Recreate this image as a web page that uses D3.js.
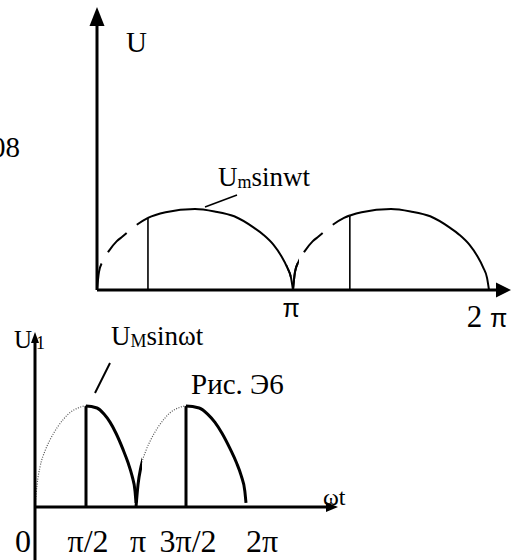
<!DOCTYPE html>
<html lang="ru">
  <head>
    <meta charset="utf-8">
    <script src="https://d3js.org/d3.v7.min.js"></script>
    <style>
      body { margin: 0; background: white; }
      svg text { font-family: "Liberation Serif", "Times New Roman", Times, "DejaVu Serif", serif; }
      svg text .sym { font-family: "Liberation Sans", Arial, sans-serif; }
    </style>
  </head>
  <body>
    <svg id="chart" width="515" height="560"></svg>
    <script>

    // upper picture: one half-wave, phase in units of pi, value as share of Um
    var topPhase = [0, 0.01, 0.03, 0.06, 0.1, 0.13, 0.2, 0.26, 0.35, 0.5, 0.6, 0.7, 0.8, 0.85, 0.9, 0.94, 0.97, 0.99, 1];
    var topValue = [0, 0.22, 0.36, 0.48, 0.6, 0.66, 0.8, 0.89, 0.96, 1, 0.97, 0.91, 0.77, 0.68, 0.56, 0.42, 0.28, 0.15, 0];
    var topStart = [0, 1];          // half-wave begins
    var topFire = [0.26, 1.29];     // conduction begins (vertical line)
    var topTicks = [1, 2];
    var topTickLabels = ["π", "2 π"];

    // lower picture
    var botPhase = [0, 0.02, 0.05, 0.1, 0.15, 0.22, 0.28, 0.35, 0.42, 0.5, 0.61, 0.68, 0.74, 0.8, 0.87, 0.92, 0.96, 0.99, 1];
    var botValue = [0, 0.22, 0.4, 0.56, 0.67, 0.79, 0.87, 0.94, 0.98, 1, 0.98, 0.92, 0.84, 0.73, 0.57, 0.44, 0.31, 0.16, 0.04];
    var botStart = [0, 1];
    var botFire = [0.5, 1.5];
    var botTicks = [0, 0.5, 1, 1.5, 2];
    var botTickLabels = ["0", "π/2", "π", "3π/2", "2π"];


    var svg = d3.select("#chart");
    var defs = svg.append("defs");

    var halfWave = function(start, phase, value)
    {
      return phase.map(function(p, i)
      {
        return {x: start + p, y: value[i]};
      });
    };

    // ---------- upper picture ----------
    var topX = d3.scaleLinear().domain([0, 2]).range([97, 489]);
    var topY = d3.scaleLinear().domain([0, 1]).range([290, 209]);

    var topLine = d3.line()
      .x(function(d) { return topX(d.x); })
      .y(function(d) { return topY(d.y); })
      .curve(d3.curveMonotoneX);
    var topArea = d3.area()
      .x(function(d) { return topX(d.x); })
      .y0(topY(0))
      .y1(function(d) { return topY(d.y); })
      .curve(d3.curveMonotoneX);

    var topWaves = topStart.map(function(s) { return halfWave(s, topPhase, topValue); });

    // clip: dashed before the firing point, solid after it
    defs.append("clipPath").attr("id", "topDash")
      .selectAll("rect").data(topStart).enter().append("rect")
      .attr("x", function(d) { return topX(d) - 6; })
      .attr("y", 0)
      .attr("width", function(d, i) { return topX(topFire[i]) - topX(d) + 6; })
      .attr("height", 300);
    defs.append("clipPath").attr("id", "topSolid")
      .selectAll("rect").data(topStart).enter().append("rect")
      .attr("x", function(d, i) { return topX(topFire[i]); })
      .attr("y", 0)
      .attr("width", function(d, i) { return topX(d + 1) - topX(topFire[i]) + 6; })
      .attr("height", 300);
    defs.append("clipPath").attr("id", "topUnder")
      .selectAll("path").data(topWaves).enter().append("path")
      .attr("d", topArea);

    svg.append("g").attr("clip-path", "url(#topDash)")
      .selectAll("path").data(topWaves).enter().append("path")
      .attr("d", topLine)
      .attr("fill", "none")
      .attr("stroke", "black")
      .attr("stroke-width", 2)
      .attr("stroke-dasharray", "27,13");
    svg.append("g").attr("clip-path", "url(#topSolid)")
      .selectAll("path").data(topWaves).enter().append("path")
      .attr("d", topLine)
      .attr("fill", "none")
      .attr("stroke", "black")
      .attr("stroke-width", 2);

    svg.append("g").attr("clip-path", "url(#topUnder)")
      .selectAll("line").data(topFire).enter().append("line")
      .attr("x1", function(d) { return topX(d); })
      .attr("x2", function(d) { return topX(d); })
      .attr("y1", topY(0))
      .attr("y2", topY(1) - 5)
      .attr("stroke", "black")
      .attr("stroke-width", 1.6);

    // axes
    svg.append("line")
      .attr("x1", topX(0)).attr("y1", topY(0))
      .attr("x2", topX(0)).attr("y2", 22)
      .attr("stroke", "black").attr("stroke-width", 3);
    svg.append("path")
      .attr("d", "M" + topX(0) + ",7 L" + (topX(0) - 7.5) + ",26 L" + (topX(0) + 7.5) + ",26 Z")
      .attr("fill", "black");
    svg.append("line")
      .attr("x1", topX(0)).attr("y1", topY(0))
      .attr("x2", 500).attr("y2", topY(0))
      .attr("stroke", "black").attr("stroke-width", 3);
    svg.append("path")
      .attr("d", "M511," + topY(0) + " L496," + (topY(0) - 7.5) + " L496," + (topY(0) + 7.5) + " Z")
      .attr("fill", "black");

    // tick labels
    svg.selectAll(".topTick").data(topTicks).enter().append("text")
      .attr("class", "topTick")
      .attr("x", function(d) { return topX(d) - 2; })
      .attr("y", function(d, i) { return i == 0 ? 317 : 327; })
      .attr("text-anchor", "middle")
      .each(function(d, i)
      {
        var t = d3.select(this);
        var parts = topTickLabels[i].split(" ");
        if (parts.length > 1)
        {
          t.append("tspan").attr("font-size", 31).text(parts[0] + " ");
        }
        t.append("tspan")
          .attr("class", "sym")
          .attr("font-size", 25)
          .text(parts[parts.length - 1]);
      });

    svg.append("text").attr("x", 126).attr("y", 52).attr("font-size", 29).text("U");
    svg.append("text").attr("x", 20).attr("y", 157).attr("font-size", 29)
      .attr("text-anchor", "end").text("08");

    var um = svg.append("text").attr("x", 218).attr("y", 186).attr("font-size", 27);
    um.append("tspan").text("U");
    um.append("tspan").attr("font-size", 18).attr("dy", 2).text("m");
    um.append("tspan").attr("dy", -2).text("sinwt");
    svg.append("line")
      .attr("x1", 205).attr("y1", 207).attr("x2", 237).attr("y2", 195)
      .attr("stroke", "black").attr("stroke-width", 1.6);


    // ---------- lower picture ----------
    var botX = d3.scaleLinear().domain([0, 0.5, 1, 1.5, 2]).range([35, 86, 136, 186, 246]);
    var botY = d3.scaleLinear().domain([0, 1]).range([507, 406]);

    var botLine = d3.line()
      .x(function(d) { return botX(d.x); })
      .y(function(d) { return botY(d.y); })
      .curve(d3.curveMonotoneX);
    var botArea = d3.area()
      .x(function(d) { return botX(d.x); })
      .y0(botY(0))
      .y1(function(d) { return botY(d.y); })
      .curve(d3.curveMonotoneX);

    var botWaves = botStart.map(function(s) { return halfWave(s, botPhase, botValue); });

    defs.append("clipPath").attr("id", "botDot")
      .selectAll("rect").data(botStart).enter().append("rect")
      .attr("x", function(d) { return botX(d) - 6; })
      .attr("y", 380)
      .attr("width", function(d, i) { return botX(botFire[i]) - botX(d) + 6; })
      .attr("height", 140);
    defs.append("clipPath").attr("id", "botSolid")
      .selectAll("rect").data(botStart).enter().append("rect")
      .attr("x", function(d, i) { return botX(botFire[i]); })
      .attr("y", 380)
      .attr("width", function(d, i) { return botX(d + 1) - botX(botFire[i]) + 6; })
      .attr("height", 140);
    defs.append("clipPath").attr("id", "botUnder")
      .selectAll("path").data(botWaves).enter().append("path")
      .attr("d", botArea);

    svg.append("g").attr("clip-path", "url(#botDot)")
      .selectAll("path").data(botWaves).enter().append("path")
      .attr("d", botLine)
      .attr("fill", "none")
      .attr("stroke", "#555")
      .attr("stroke-width", 1.2)
      .attr("stroke-dasharray", "1,1.5");
    svg.append("g").attr("clip-path", "url(#botSolid)")
      .selectAll("path").data(botWaves).enter().append("path")
      .attr("d", botLine)
      .attr("fill", "none")
      .attr("stroke", "black")
      .attr("stroke-width", 3);

    svg.append("g").attr("clip-path", "url(#botUnder)")
      .selectAll("line").data(botFire).enter().append("line")
      .attr("x1", function(d) { return botX(d); })
      .attr("x2", function(d) { return botX(d); })
      .attr("y1", botY(0))
      .attr("y2", botY(1) - 5)
      .attr("stroke", "black")
      .attr("stroke-width", 3);

    // label drawn before the axis so the arrow sits on top of "ωt"
    svg.append("text").attr("x", 323).attr("y", 505).attr("font-size", 24).text("ωt");

    svg.append("line")
      .attr("x1", botX(0)).attr("y1", 560)
      .attr("x2", botX(0)).attr("y2", 338)
      .attr("stroke", "black").attr("stroke-width", 3);
    svg.append("path")
      .attr("d", "M" + botX(0) + ",332 L" + (botX(0) - 4) + ",343 L" + (botX(0) + 4) + ",343 Z")
      .attr("fill", "black");
    svg.append("line")
      .attr("x1", botX(0)).attr("y1", botY(0))
      .attr("x2", 330).attr("y2", botY(0))
      .attr("stroke", "black").attr("stroke-width", 3);
    svg.append("path")
      .attr("d", "M338," + botY(0) + " L326," + (botY(0) - 5) + " L326," + (botY(0) + 5) + " Z")
      .attr("fill", "black");

    svg.selectAll(".botTick").data(botTicks).enter().append("text")
      .attr("class", "botTick")
      .attr("x", function(d, i)
      {
        if (i == 0) return botX(d) - 4;
        if (i == botTicks.length - 1) return botX(d);
        return botX(d) + 2;
      })
      .attr("y", 552)
      .attr("font-size", 32)
      .attr("text-anchor", function(d, i)
      {
        if (i == 0) return "end";
        if (i == botTicks.length - 1) return "start";
        return "middle";
      })
      .text(function(d, i) { return botTickLabels[i]; });

    var u1 = svg.append("text").attr("x", 14).attr("y", 348).attr("font-size", 25);
    u1.append("tspan").text("U");
    u1.append("tspan").attr("font-size", 18).attr("dx", 4).attr("dy", 1).text("1");

    var uM = svg.append("text").attr("x", 111).attr("y", 345).attr("font-size", 27);
    uM.append("tspan").text("U");
    uM.append("tspan").attr("font-size", 18).attr("dy", 2).text("M");
    uM.append("tspan").attr("dy", -2).text("sinωt");

    svg.append("line")
      .attr("x1", 95).attr("y1", 393).attr("x2", 110).attr("y2", 363)
      .attr("stroke", "black").attr("stroke-width", 2);

    svg.append("text").attr("x", 191).attr("y", 394).attr("font-size", 29).text("Рис. Э6");

    </script>
  </body>
</html>
